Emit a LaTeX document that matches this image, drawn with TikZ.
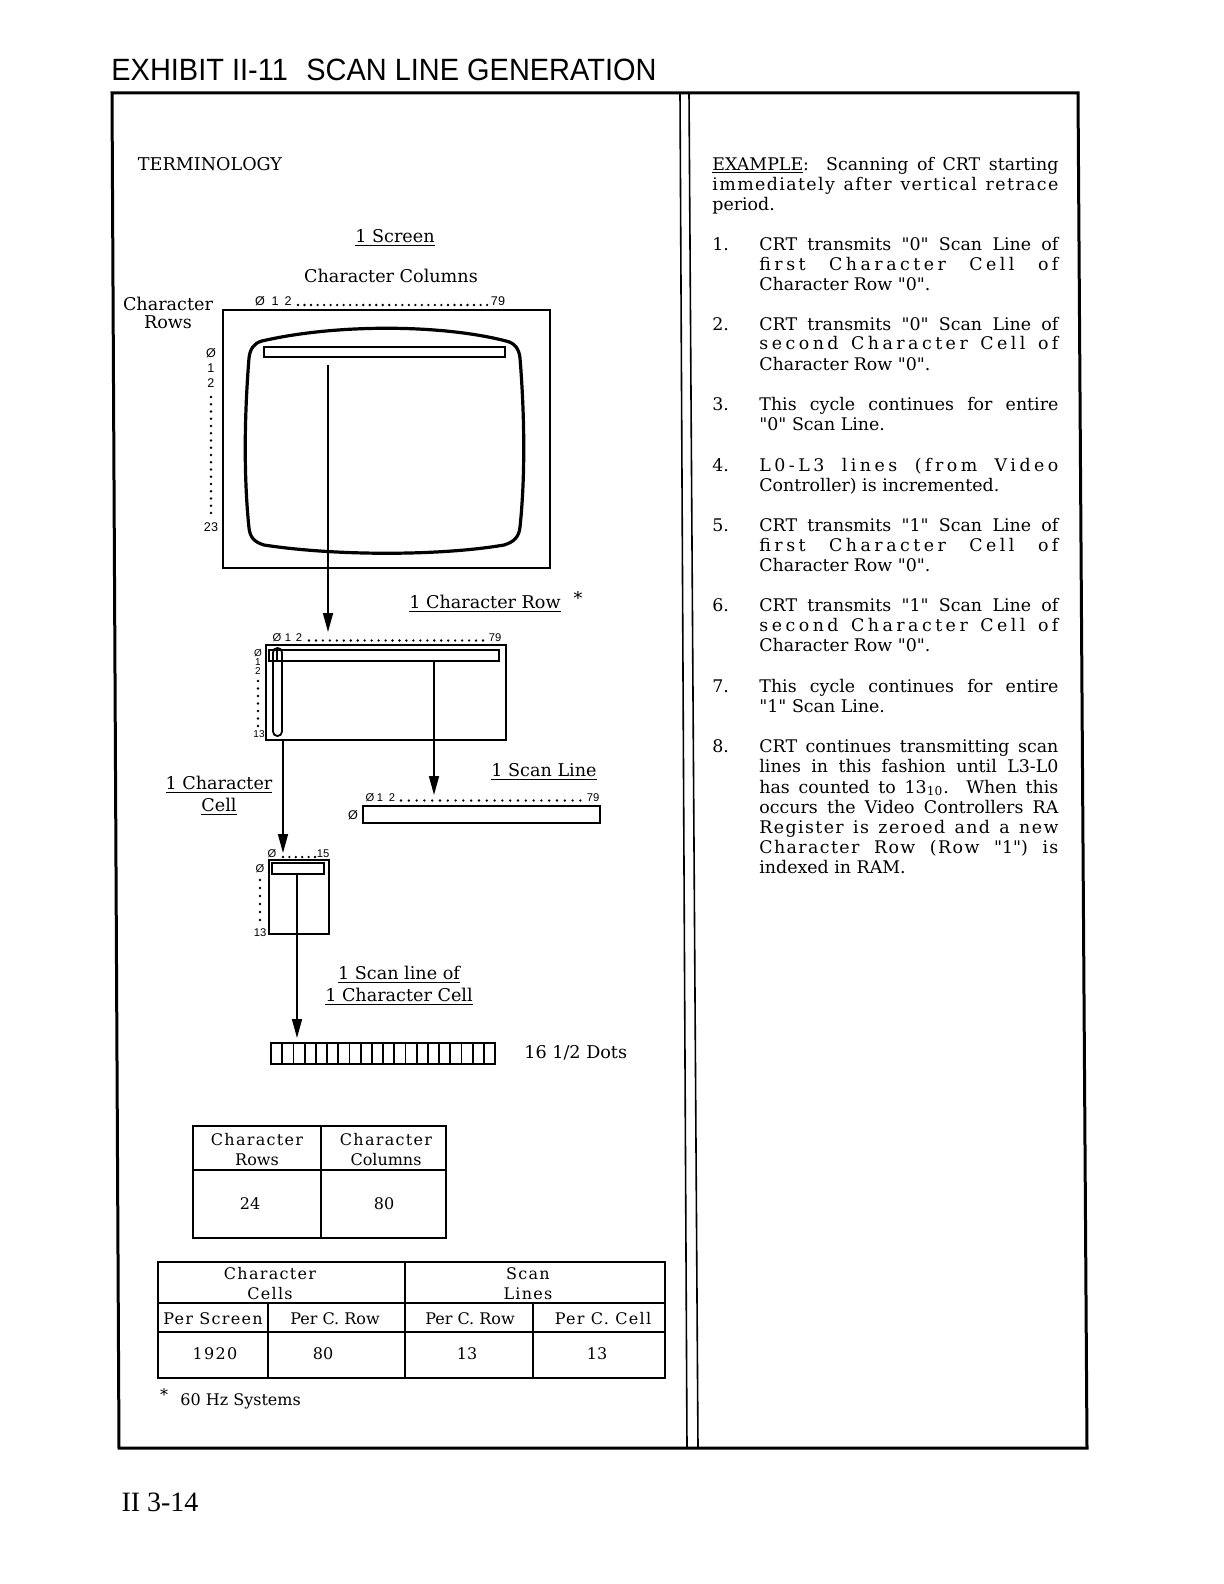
\documentclass[tikz,border=0pt]{standalone}
\usepackage{fontspec}
\usepackage{graphicx}
\setmainfont{DejaVu Serif}
\newfontfamily\sansf{Liberation Sans}
\newfontfamily\titlef[FakeStretch=0.94]{Liberation Sans}
\newfontfamily\footf{Liberation Serif}
\newfontfamily\wide[LetterSpace=20]{DejaVu Serif}
\newfontfamily\semi[LetterSpace=8]{DejaVu Serif}
\usetikzlibrary{arrows.meta,fit}
\newsavebox\lbox
\newcommand\fitline[2]{\sbox\lbox{#2}\ifdim\wd\lbox>#1\relax\resizebox{#1}{\height}{\usebox\lbox}\else\makebox[#1][s]{#2}\fi}
\newcommand\rfont{\fontsize{8.7}{10}\selectfont}
\newcommand\q{\textquotedbl}
\newcommand\RL[3]{\node[rt] (#1) at (759,#2) {\fitline{149.5pt}{#3}};}
\newcommand\RS[3]{\node[rt] (#1) at (759,#2) {#3};}
\newcommand\RN[3]{\node[rt] (#1) at (712,#2) {#3};}
\newcommand\dotrow[4]{\foreach \i in {0,...,#3}{\fill (#1+\i*#4,#2) circle (1.3);}}
\newcommand\dotcol[4]{\foreach \i in {0,...,#3}{\fill (#1,#2+\i*#4) circle (1.3);}}
\tikzset{
  rt/.style={anchor=base west, inner sep=0pt, font=\rfont},
  lt/.style={inner sep=0pt, font=\fontsize{8.8}{10}\selectfont, align=center},
  tt/.style={inner sep=0pt, font=\fontsize{8}{10}\selectfont, align=center},
  lab/.style={anchor=base, inner sep=0pt, font=\sansf\fontsize{6.3}{7}\selectfont},
  labs/.style={anchor=base, inner sep=0pt, font=\sansf\fontsize{5.6}{6}\selectfont},
  labt/.style={anchor=base, inner sep=0pt, font=\sansf\fontsize{5}{5.5}\selectfont},
  shape box/.style={draw, line width=1pt, inner sep=0pt},
  crt/.style={line width=1.6pt, line join=round},
  arr/.style={line width=0.8pt, -{Triangle[length=9.5pt,width=5pt]}},
  frame/.style={line width=1.5pt},
  tbl/.style={line width=1pt},
}
\begin{document}
\begin{tikzpicture}[x=0.5pt,y=-0.5pt]
\useasboundingbox (0,0) rectangle (1224,1584);
\fill[white] (0,0) rectangle (1224,1584);

% title and frame
\node[anchor=base west, inner sep=0pt] (title) at (111,81) {\titlef\fontsize{15.4}{18}\selectfont EXHIBIT II-11\hspace{0.6em}SCAN LINE GENERATION};
\draw[frame] (112,93) -- (1078,93) -- (1087,1448) -- (119,1448) -- cycle;
\draw[line width=0.8pt] (680,93) -- (687,1448);
\draw[line width=0.8pt] (689,93) -- (698,1448);

% ---------------- left panel ----------------
\node[lt] (term) at (210,164) {TERMINOLOGY};
\node[lt] (screenT) at (395,238) {\underline{1 Screen}};
\node[lt] (colsT) at (391,276) {Character Columns};
\node[lt, font=\fontsize{8.8}{8.6}\selectfont] (rowsT) at (168,313) {Character\\Rows};

% screen column labels
\node[lab] (s0) at (260,305.5) {Ø};
\node[lab] (s1) at (275,305.5) {1};
\node[lab] (s2) at (288,305.5) {2};
\dotrow{298}{305}{29}{6.52}
\node[lab] (s79) at (498,305.5) {79};
% screen row labels
\node[lab] (r0) at (211,357) {Ø};
\node[lab] (r1) at (211,372) {1};
\node[lab] (r2) at (211,387) {2};
\dotcol{211}{397}{16}{7.25}
\node[lab] (r23) at (211,531) {23};

% screen
\node[shape box, fit={(223,310) (550,568)}] (scr) {};
\draw[crt] (262,341) .. controls (335,324) and (440,324) .. (506,341)
  .. controls (515,343) and (519,349) .. (520,358)
  .. controls (525,420) and (525,480) .. (520,527)
  .. controls (519,537) and (514,542) .. (504,545)
  .. controls (440,556) and (335,556) .. (264,545)
  .. controls (254,542) and (250,537) .. (249,528)
  .. controls (244,480) and (244,420) .. (249,358)
  .. controls (250,349) and (254,343) .. (262,341) -- cycle;
\node[shape box, line width=0.9pt, fit={(264,347) (505,357)}] (scrbar) {};

% character row
\node[lt] (rowT) at (485,604) {\underline{1 Character Row}};
\node[lt] (star) at (578,598) {*};
\node[labs] (c0) at (277,641) {Ø};
\node[labs] (c1) at (288,641) {1};
\node[labs] (c2) at (299,641) {2};
\dotrow{309}{640.5}{25}{6.96}
\node[labs] (c79) at (495,641) {79};
\node[labt] (cr0) at (258,656) {Ø};
\node[labt] (cr1) at (258,665) {1};
\node[labt] (cr2) at (258,674) {2};
\dotcol{258}{681}{6}{7.5}
\node[labt] (cr13) at (259,737) {13};
\node[shape box, fit={(266,645) (506,740)}] (rowbox) {};
\node[shape box, line width=0.9pt, fit={(269,650) (499,661)}] (rowbar) {};
\node[shape box, line width=0.9pt, rounded corners=2.2pt, fit={(273,648) (282,736)}] (pill) {};
\draw[line width=0.9pt] (277,650) -- (277,661);

% scan line
\node[lt] (scanT) at (544,772) {\underline{1 Scan Line}};
\node[labs] (l0) at (370,801) {Ø};
\node[labs] (l1) at (380,801) {1};
\node[labs] (l2) at (392,801) {2};
\dotrow{401}{800.5}{23}{7.8}
\node[labs] (l79) at (593,801) {79};
\node[lab] (lz) at (353,819) {Ø};
\node[shape box, fit={(363,806) (600,823)}] (scanbox) {};

% character cell
\node[lt] (cellT) at (219,796) {\underline{1 Character}\\[1pt]\underline{Cell}};
\node[labs] (e0) at (272,857) {Ø};
\dotrow{283}{857}{5}{6.4}
\node[labs] (e15) at (323,857) {15};
\node[labs] (er0) at (260,872) {Ø};
\dotcol{260}{880}{5}{8}
\node[labs] (er13) at (260,936) {13};
\node[shape box, fit={(269,860) (329,934)}] (cellbox) {};
\node[shape box, line width=0.9pt, fit={(272,863) (324,874)}] (cellbar) {};

% scan line of one cell
\node[lt] (dotT) at (399,986) {\underline{1 Scan line of}\\[1pt]\underline{1 Character Cell}};
\foreach \k in {0,...,19}{\draw[line width=0.9pt] (271+\k*11.2,1043) rectangle (282.2+\k*11.2,1064);}
\node[lt, anchor=west] (dotsT) at (524,1053) {16 1/2 Dots};

% connectors
\coordinate (a1s) at (328,365);
\coordinate (a1e) at (328,632);
\draw[arr] (a1s) -- (a1e);
\coordinate (a2s) at (434,661);
\coordinate (a2e) at (434,795);
\draw[arr] (a2s) -- (a2e);
\coordinate (a3s) at (283,740);
\coordinate (a3e) at (283,853);
\draw[arr] (a3s) -- (a3e);
\coordinate (a4s) at (297,874);
\coordinate (a4e) at (297,1038);
\draw[arr] (a4s) -- (a4e);

% table 1
\draw[tbl] (193,1126) rectangle (446,1238);
\draw[tbl] (321,1126) -- (321,1238);
\draw[tbl] (193,1170) -- (446,1170);
\node[tt] (t1a) at (257,1150) {{\semi Character}\\Rows};
\node[tt] (t1b) at (386,1150) {{\semi Character}\\Columns};
\node[tt] (t1c) at (250,1204) {24};
\node[tt] (t1d) at (384,1204) {80};

% table 2
\draw[tbl] (158,1262) rectangle (665,1378);
\draw[tbl] (405,1262) -- (405,1378);
\draw[tbl] (158,1303) -- (665,1303);
\draw[tbl] (158,1332) -- (665,1332);
\draw[tbl] (268,1303) -- (268,1378);
\draw[tbl] (533,1303) -- (533,1378);
\node[tt] (t2a) at (270,1284) {{\semi Character}\\{\semi Cells}};
\node[tt] (t2b) at (528,1284) {{\semi Scan}\\{\semi Lines}};
\node[tt] (t2c) at (213,1319) {{\semi Per Screen}};
\node[tt] (t2d) at (335,1319) {Per C. Row};
\node[tt] (t2e) at (470,1319) {Per C. Row};
\node[tt] (t2f) at (603,1319) {{\semi Per C. Cell}};
\node[tt] (t2g) at (215,1354) {{\semi 1920}};
\node[tt] (t2h) at (323,1354) {80};
\node[tt] (t2i) at (467,1354) {13};
\node[tt] (t2j) at (597,1354) {13};
\node[tt] (fnstar) at (164,1395) {*};
\node[tt, anchor=west] (fn) at (180,1401) {60 Hz Systems};

% footer
\node[inner sep=0pt] (foot) at (160,1502) {\footf\fontsize{14}{16}\selectfont II 3-14};

% ---------------- right panel ----------------
\node[rt] (ex1) at (712,170) {\fitline{173pt}{\underline{EXAMPLE}:\ \ Scanning of CRT starting}};
\node[rt] (ex2) at (712,190) {\fitline{173pt}{{\semi immediately after vertical retrace}}};
\node[rt] (ex3) at (712,210) {period.};

\RN{n1}{250}{1.}
\RL{p1a}{250}{CRT transmits \q0\q{} Scan Line of}
\RL{p1b}{270}{{\wide first Character Cell of}}
\RS{p1c}{290}{Character Row \q0\q.}

\RN{n2}{330}{2.}
\RL{p2a}{330}{CRT transmits \q0\q{} Scan Line of}
\RL{p2b}{349}{{\wide second Character Cell of}}
\RS{p2c}{370}{Character Row \q0\q.}

\RN{n3}{410}{3.}
\RL{p3a}{410}{This cycle continues for entire}
\RS{p3b}{430}{\q0\q{} Scan Line.}

\RN{n4}{471}{4.}
\RL{p4a}{471}{{\wide L0-L3 lines (from Video}}
\RS{p4b}{491}{Controller) is incremented.}

\RN{n5}{531}{5.}
\RL{p5a}{531}{CRT transmits \q1\q{} Scan Line of}
\RL{p5b}{551}{{\wide first Character Cell of}}
\RS{p5c}{571}{Character Row \q0\q.}

\RN{n6}{611}{6.}
\RL{p6a}{611}{CRT transmits \q1\q{} Scan Line of}
\RL{p6b}{631}{{\wide second Character Cell of}}
\RS{p6c}{651}{Character Row \q0\q.}

\RN{n7}{692}{7.}
\RL{p7a}{692}{This cycle continues for entire}
\RS{p7b}{712}{\q1\q{} Scan Line.}

\RN{n8}{752}{8.}
\RL{p8a}{752}{CRT continues transmitting scan}
\RL{p8b}{772}{lines in this fashion until L3-L0}
\RL{p8c}{793}{has counted to 13\textsubscript{10}.\ \ When this}
\RL{p8d}{813}{occurs the Video Controllers RA}
\RL{p8e}{833}{{\semi Register is zeroed and a new}}
\RL{p8f}{853}{{\semi Character Row (Row \q1\q) is}}
\RS{p8g}{873}{indexed in RAM.}
\end{tikzpicture}
\end{document}
